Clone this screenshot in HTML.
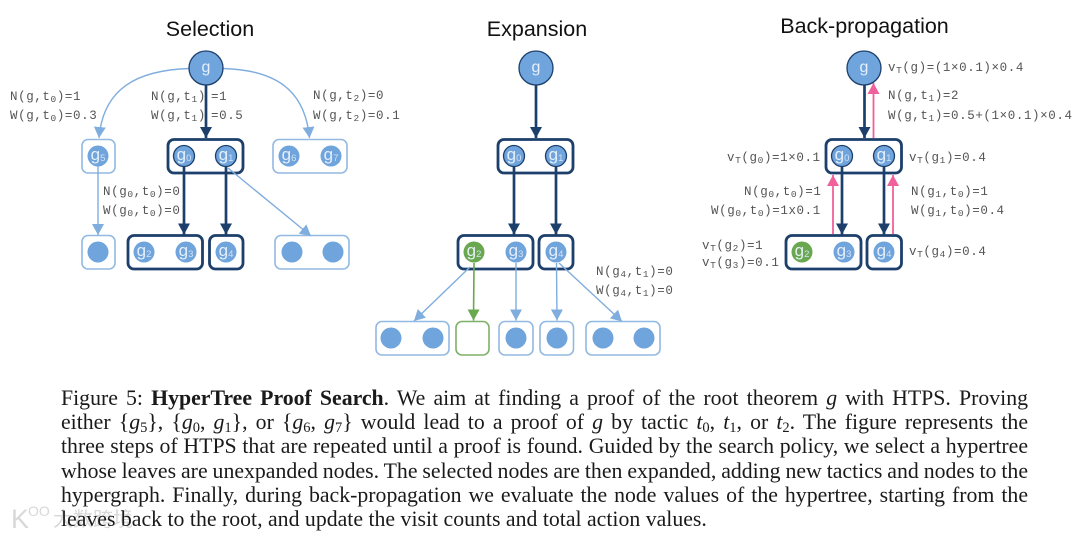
<!DOCTYPE html>
<html><head><meta charset="utf-8">
<style>
html,body{margin:0;padding:0;background:#fff}
#p{position:relative;width:1080px;height:538px;overflow:hidden;background:#fff;filter:blur(.35px)}
svg{position:absolute;left:0;top:0}
.m{font-family:"Liberation Mono",monospace;font-size:12.5px;letter-spacing:.6px;fill:#555}
.m .s{font-size:9.5px}
.t{font-family:"Liberation Sans",sans-serif;font-size:21.5px;fill:#111;text-anchor:middle}
.r{font-family:"Liberation Sans",sans-serif;font-size:16px;fill:#e6effa;text-anchor:middle}
.n{font-family:"Liberation Sans",sans-serif;font-size:17px;fill:#e6effa;text-anchor:middle}
.n .s{font-size:9.500px;fill:#d3e2f3}
.lb{fill:#fff;stroke:#93b9e2;stroke-width:1.6}
.db{fill:#fff;stroke:#1c3f6b;stroke-width:2.8}
.c{fill:#6fa4dc}
.cd{fill:#6fa4dc;stroke:#1c3f6b;stroke-width:1.3}
.dl{stroke:#1c3f6b;stroke-width:2.7;fill:none}
.ll{stroke:#7fadde;stroke-width:1.4;fill:none}
.cap{position:absolute;left:61px;width:967px;height:26px;line-height:26px;font-family:"Liberation Serif",serif;font-size:21.8px;color:#1a1a1a;text-align:justify;text-align-last:justify;word-spacing:-1.5px}
.cap i{font-style:italic}
.cap sub{font-size:14.5px;line-height:0;vertical-align:-3px;font-style:normal}
.wm{position:absolute;color:rgba(212,212,212,.9);text-shadow:0 0 2px #fff,0 0 3px #fff,0 0 4px #fff;white-space:nowrap}
</style></head><body><div id="p">
<svg width="1080" height="538" viewBox="0 0 1080 538" xmlns="http://www.w3.org/2000/svg">
<defs>
<marker id="ad" markerUnits="userSpaceOnUse" markerWidth="14" markerHeight="14" refX="11" refY="7" orient="auto"><polygon points="0,1 11,7 0,13" fill="#1c3f6b"/></marker>
<marker id="al" markerUnits="userSpaceOnUse" markerWidth="14" markerHeight="14" refX="11" refY="7" orient="auto"><polygon points="0,1 11,7 0,13" fill="#7fadde"/></marker>
<marker id="ag" markerUnits="userSpaceOnUse" markerWidth="14" markerHeight="14" refX="11" refY="7" orient="auto"><polygon points="0,1 11,7 0,13" fill="#6aa84f"/></marker>
<marker id="ap" markerUnits="userSpaceOnUse" markerWidth="14" markerHeight="14" refX="11" refY="7" orient="auto"><polygon points="0,1 11,7 0,13" fill="#f0609a"/></marker>
</defs>

<text class="t" x="210" y="36">Selection</text>
<text class="t" x="537" y="36">Expansion</text>
<text class="t" x="864.500" y="33">Back-propagation</text>

<!-- Selection -->
<rect class="lb" x="82" y="139.500" width="33" height="33.500" rx="6"/>
<rect class="db" x="168" y="139.500" width="75" height="33.500" rx="6"/>
<rect class="lb" x="273" y="139.500" width="74" height="33.500" rx="6"/>
<rect class="lb" x="82" y="235.500" width="33" height="33.500" rx="6"/>
<rect class="db" x="128" y="235.500" width="74.500" height="33.500" rx="6"/>
<rect class="db" x="209.500" y="235.500" width="33.500" height="33.500" rx="6"/>
<rect class="lb" x="275" y="235.500" width="74" height="33.500" rx="6"/>

<path class="ll" d="M190 68.500C135 70 103 90 99 138" marker-end="url(#al)"/>
<path class="ll" d="M223 68.500C276 70 305 90 309.500 138" marker-end="url(#al)"/>
<line class="dl" x1="206" y1="85" x2="206" y2="138" marker-end="url(#ad)"/>
<line class="ll" x1="98" y1="166" x2="98" y2="235" marker-end="url(#al)"/>
<line class="dl" x1="184" y1="167" x2="184" y2="234.500" marker-end="url(#ad)"/>
<line class="dl" x1="226" y1="167" x2="226" y2="234.500" marker-end="url(#ad)"/>
<line class="ll" x1="228" y1="168" x2="311" y2="236" marker-end="url(#al)"/>

<circle class="cd" cx="206" cy="68" r="17"/>
<circle class="c" cx="98" cy="156" r="10.500"/>
<circle class="cd" cx="184" cy="156" r="10.500"/>
<circle class="cd" cx="226" cy="156" r="10.500"/>
<circle class="c" cx="289" cy="156" r="10.500"/>
<circle class="c" cx="331" cy="156" r="10.500"/>
<circle class="c" cx="98" cy="252" r="10.500"/>
<circle class="c" cx="144" cy="252" r="10.500"/>
<circle class="c" cx="186" cy="252" r="10.500"/>
<circle class="c" cx="226" cy="252" r="10.500"/>
<circle class="c" cx="292" cy="252" r="10.500"/>
<circle class="c" cx="333" cy="252" r="10.500"/>

<text class="r" x="206" y="72">g</text>
<text class="n" x="98" y="160">g<tspan class="s" dy="1">5</tspan></text>
<text class="n" x="184" y="160">g<tspan class="s" dy="1">0</tspan></text>
<text class="n" x="226" y="160">g<tspan class="s" dy="1">1</tspan></text>
<text class="n" x="289" y="160">g<tspan class="s" dy="1">6</tspan></text>
<text class="n" x="331" y="160">g<tspan class="s" dy="1">7</tspan></text>
<text class="n" x="144" y="256">g<tspan class="s" dy="1">2</tspan></text>
<text class="n" x="186" y="256">g<tspan class="s" dy="1">3</tspan></text>
<text class="n" x="226" y="256">g<tspan class="s" dy="1">4</tspan></text>

<text class="m" x="10" y="100">N(g,t<tspan class="s" dy="2">0</tspan><tspan dy="-2">)=1</tspan></text>
<text class="m" x="10" y="119">W(g,t<tspan class="s" dy="2">0</tspan><tspan dy="-2">)=0.3</tspan></text>
<text class="m" x="151" y="100">N(g,t<tspan class="s" dy="2">1</tspan><tspan dy="-2">)</tspan></text>
<text class="m" x="211" y="100">=1</text>
<text class="m" x="151" y="119">W(g,t<tspan class="s" dy="2">1</tspan><tspan dy="-2">)</tspan></text>
<text class="m" x="211" y="119">=0.5</text>
<text class="m" x="313" y="99">N(g,t<tspan class="s" dy="2">2</tspan><tspan dy="-2">)=0</tspan></text>
<text class="m" x="313" y="119">W(g,t<tspan class="s" dy="2">2</tspan><tspan dy="-2">)=0.1</tspan></text>
<text class="m" x="103" y="195">N(g<tspan class="s" dy="2">0</tspan><tspan dy="-2">,t</tspan><tspan class="s" dy="2">0</tspan><tspan dy="-2">)=0</tspan></text>
<text class="m" x="103" y="214">W(g<tspan class="s" dy="2">0</tspan><tspan dy="-2">,t</tspan><tspan class="s" dy="2">0</tspan><tspan dy="-2">)=0</tspan></text>

<!-- Expansion -->
<rect class="db" x="498" y="139.500" width="75" height="33.500" rx="6"/>
<rect class="db" x="458" y="235.500" width="75" height="33.500" rx="6"/>
<rect class="db" x="539" y="235.500" width="34" height="33.500" rx="6"/>
<rect class="lb" x="376" y="321.500" width="73" height="33.500" rx="6"/>
<rect x="456" y="321.500" width="33" height="33.500" rx="6" fill="#fff" stroke="#7fb069" stroke-width="1.600"/>
<rect class="lb" x="499" y="321.500" width="34" height="33.500" rx="6"/>
<rect class="lb" x="540" y="321.500" width="33.500" height="33.500" rx="6"/>
<rect class="lb" x="586" y="321.500" width="74" height="33.500" rx="6"/>

<line class="dl" x1="536" y1="85" x2="536" y2="138" marker-end="url(#ad)"/>
<line class="dl" x1="514" y1="167" x2="514" y2="234.500" marker-end="url(#ad)"/>
<line class="dl" x1="556" y1="167" x2="556" y2="234.500" marker-end="url(#ad)"/>
<line class="ll" x1="470" y1="267" x2="414" y2="321" marker-end="url(#al)"/>
<line x1="474" y1="263" x2="473.500" y2="320.500" stroke="#6aa84f" stroke-width="1.600" marker-end="url(#ag)"/>
<line class="ll" x1="516" y1="263" x2="516" y2="320.500" marker-end="url(#al)"/>
<line class="ll" x1="556.500" y1="263" x2="557" y2="320.500" marker-end="url(#al)"/>
<line class="ll" x1="559" y1="263" x2="622" y2="321.500" marker-end="url(#al)"/>

<circle class="cd" cx="536" cy="68" r="17"/>
<circle class="cd" cx="514" cy="156" r="10.500"/>
<circle class="cd" cx="556" cy="156" r="10.500"/>
<circle cx="474" cy="252" r="10.500" fill="#6aa84f"/>
<circle class="c" cx="516" cy="252" r="10.500"/>
<circle class="c" cx="556" cy="252" r="10.500"/>
<circle class="c" cx="391" cy="338" r="10.500"/>
<circle class="c" cx="433" cy="338" r="10.500"/>
<circle class="c" cx="516" cy="338" r="10.500"/>
<circle class="c" cx="557" cy="338" r="10.500"/>
<circle class="c" cx="603" cy="338" r="10.500"/>
<circle class="c" cx="644" cy="338" r="10.500"/>

<text class="r" x="536" y="72">g</text>
<text class="n" x="514" y="160">g<tspan class="s" dy="1">0</tspan></text>
<text class="n" x="556" y="160">g<tspan class="s" dy="1">1</tspan></text>
<text class="n" x="474" y="256">g<tspan class="s" dy="1">2</tspan></text>
<text class="n" x="516" y="256">g<tspan class="s" dy="1">3</tspan></text>
<text class="n" x="556" y="256">g<tspan class="s" dy="1">4</tspan></text>

<text class="m" x="596" y="275">N(g<tspan class="s" dy="2">4</tspan><tspan dy="-2">,t</tspan><tspan class="s" dy="2">1</tspan><tspan dy="-2">)=0</tspan></text>
<text class="m" x="596" y="294">W(g<tspan class="s" dy="2">4</tspan><tspan dy="-2">,t</tspan><tspan class="s" dy="2">1</tspan><tspan dy="-2">)=0</tspan></text>

<!-- Back-propagation -->
<rect class="db" x="826" y="139.500" width="75.500" height="33.500" rx="6"/>
<rect class="db" x="786" y="235.500" width="75" height="33.500" rx="6"/>
<rect class="db" x="867" y="235.500" width="34.500" height="33.500" rx="6"/>

<line class="dl" x1="864.500" y1="85" x2="864.500" y2="138" marker-end="url(#ad)"/>
<line class="dl" x1="842" y1="167" x2="842" y2="234.500" marker-end="url(#ad)"/>
<line class="dl" x1="884" y1="167" x2="884" y2="234.500" marker-end="url(#ad)"/>
<line x1="873.500" y1="138" x2="873.500" y2="83" stroke="#f0609a" stroke-width="1.800" marker-end="url(#ap)"/>
<line x1="833" y1="234" x2="833" y2="175" stroke="#f0609a" stroke-width="1.800" marker-end="url(#ap)"/>
<line x1="893" y1="234" x2="893" y2="175" stroke="#f0609a" stroke-width="1.800" marker-end="url(#ap)"/>

<circle class="cd" cx="864" cy="68" r="17"/>
<circle class="cd" cx="842" cy="156" r="10.500"/>
<circle class="cd" cx="884" cy="156" r="10.500"/>
<circle cx="802" cy="252" r="10.500" fill="#6aa84f"/>
<circle class="c" cx="844" cy="252" r="10.500"/>
<circle class="c" cx="884" cy="252" r="10.500"/>

<text class="r" x="864" y="72">g</text>
<text class="n" x="842" y="160">g<tspan class="s" dy="1">0</tspan></text>
<text class="n" x="884" y="160">g<tspan class="s" dy="1">1</tspan></text>
<text class="n" x="802" y="256">g<tspan class="s" dy="1">2</tspan></text>
<text class="n" x="844" y="256">g<tspan class="s" dy="1">3</tspan></text>
<text class="n" x="884" y="256">g<tspan class="s" dy="1">4</tspan></text>

<text class="m" x="888" y="71">v<tspan class="s" dy="2">T</tspan><tspan dy="-2">(g)=(1×0.1)×0.4</tspan></text>
<text class="m" x="888" y="99">N(g,t<tspan class="s" dy="2">1</tspan><tspan dy="-2">)=2</tspan></text>
<text class="m" x="888" y="119">W(g,t<tspan class="s" dy="2">1</tspan><tspan dy="-2">)=0.5+(1×0.1)×0.4</tspan></text>
<text class="m" x="727" y="161">v<tspan class="s" dy="2">T</tspan><tspan dy="-2">(g</tspan><tspan class="s" dy="2">0</tspan><tspan dy="-2">)=1×0.1</tspan></text>
<text class="m" x="909" y="161">v<tspan class="s" dy="2">T</tspan><tspan dy="-2">(g</tspan><tspan class="s" dy="2">1</tspan><tspan dy="-2">)=0.4</tspan></text>
<text class="m" x="744" y="195">N(g<tspan class="s" dy="2">0</tspan><tspan dy="-2">,t</tspan><tspan class="s" dy="2">0</tspan><tspan dy="-2">)=1</tspan></text>
<text class="m" x="711" y="214">W(g<tspan class="s" dy="2">0</tspan><tspan dy="-2">,t</tspan><tspan class="s" dy="2">0</tspan><tspan dy="-2">)=1x0.1</tspan></text>
<text class="m" x="911" y="195">N(g<tspan class="s" dy="2">1</tspan><tspan dy="-2">,t</tspan><tspan class="s" dy="2">0</tspan><tspan dy="-2">)=1</tspan></text>
<text class="m" x="911" y="214">W(g<tspan class="s" dy="2">1</tspan><tspan dy="-2">,t</tspan><tspan class="s" dy="2">0</tspan><tspan dy="-2">)=0.4</tspan></text>
<text class="m" x="702" y="249">v<tspan class="s" dy="2">T</tspan><tspan dy="-2">(g</tspan><tspan class="s" dy="2">2</tspan><tspan dy="-2">)=1</tspan></text>
<text class="m" x="702" y="266">v<tspan class="s" dy="2">T</tspan><tspan dy="-2">(g</tspan><tspan class="s" dy="2">3</tspan><tspan dy="-2">)=0.1</tspan></text>
<text class="m" x="909" y="255">v<tspan class="s" dy="2">T</tspan><tspan dy="-2">(g</tspan><tspan class="s" dy="2">4</tspan><tspan dy="-2">)=0.4</tspan></text>
</svg>

<div class="cap" style="top:385px">Figure 5: <b>HyperTree Proof Search</b>. We aim at finding a proof of the root theorem <i>g</i> with HTPS. Proving</div>
<div class="cap" style="top:409px">either {<i>g</i><sub>5</sub>}, {<i>g</i><sub>0</sub>, <i>g</i><sub>1</sub>}, or {<i>g</i><sub>6</sub>, <i>g</i><sub>7</sub>} would lead to a proof of <i>g</i> by tactic <i>t</i><sub>0</sub>, <i>t</i><sub>1</sub>, or <i>t</i><sub>2</sub>. The figure represents the</div>
<div class="cap" style="top:433px">three steps of HTPS that are repeated until a proof is found. Guided by the search policy, we select a hypertree</div>
<div class="cap" style="top:458px">whose leaves are unexpanded nodes. The selected nodes are then expanded, adding new tactics and nodes to the</div>
<div class="cap" style="top:482px">hypergraph. Finally, during back-propagation we evaluate the node values of the hypertree, starting from the</div>
<div class="wm" style="left:11px;top:504px;font:27px/30px 'Liberation Sans',sans-serif">K</div>
<div class="wm" style="left:28px;top:503px;font:14px/16px 'Liberation Sans',sans-serif">OO</div>
<div class="wm" style="left:53px;top:504px;font:20px/28px 'Noto Sans CJK SC',sans-serif">大数跨境</div>
<div class="cap" style="top:506px;text-align-last:left;word-spacing:0">leaves back to the root, and update the visit counts and total action values.</div>
</div></body></html>
